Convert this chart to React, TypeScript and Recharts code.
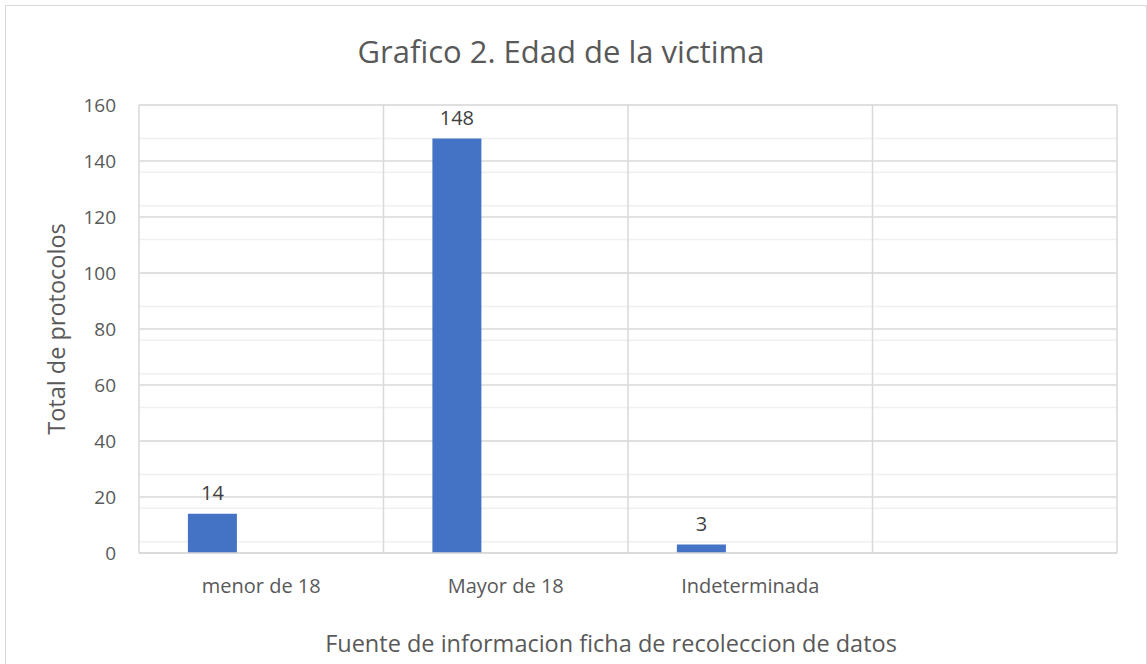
import { BarChart, Bar, XAxis, YAxis, CartesianGrid, LabelList, Label } from 'recharts';

const categories = ['menor de 18', 'Mayor de 18', 'Indeterminada', ''];
const serie1 = [14, 148, 3, null];
const serie2 = [null, null, null, null];
const serie3 = [null, null, null, null];

const yTicks = [0, 20, 40, 60, 80, 100, 120, 140, 160];
const minorTicks = [
  0, 4, 8, 12, 16, 20, 24, 28, 32, 36, 40, 44, 48, 52, 56, 60, 64, 68, 72, 76, 80,
  84, 88, 92, 96, 100, 104, 108, 112, 116, 120, 124, 128, 132, 136, 140, 144, 148, 152, 156, 160,
];
// category boundaries, as fractions of the category count
const categoryBounds = [0, 1, 2, 3, 4];

const data = categories.map((name, i) => ({
  name,
  s1: serie1[i],
  s2: serie2[i],
  s3: serie3[i],
}));

const font = '"Open Sans", sans-serif';
const textGrey = '#595959';
const gridMajor = '#d9d9d9';
const gridMinor = '#f0f0f0';
const barColor = '#4472C4';

const boundsGenerator = ({ offset }: any) =>
  categoryBounds.map((b) => offset.left + (b * offset.width) / categories.length);

export default function App() {
  return (
    <div
      style={{
        position: 'absolute',
        left: 0,
        top: 0,
        width: 1147,
        height: 664,
        overflow: 'hidden',
        background: '#fff',
        fontFamily: font,
      }}
    >
      <div
        style={{
          position: 'absolute',
          left: 5,
          top: 5,
          width: 1140,
          height: 700,
          border: `1.5px solid ${gridMajor}`,
        }}
      />
      <div
        style={{
          position: 'absolute',
          left: 0,
          top: 36,
          width: 1122,
          textAlign: 'center',
          fontSize: 31,
          lineHeight: '30px',
          color: textGrey,
        }}
      >
        Grafico 2. Edad de la victima
      </div>
      <BarChart
        width={1147}
        height={664}
        data={data}
        margin={{ top: 105, right: 30, bottom: 0, left: 0 }}
        barCategoryGap="20%"
        barGap={0}
        style={{ position: 'absolute', left: 0, top: 0 }}
      >
        <CartesianGrid
          vertical={false}
          horizontalValues={minorTicks}
          stroke={gridMinor}
          strokeWidth={1.5}
        />
        <CartesianGrid
          horizontalValues={yTicks}
          verticalCoordinatesGenerator={boundsGenerator}
          stroke={gridMajor}
          strokeWidth={1.5}
        />
        <XAxis
          dataKey="name"
          height={111}
          tickLine={false}
          tickSize={0}
          tickMargin={26}
          axisLine={{ stroke: gridMajor, strokeWidth: 1.5 }}
          tick={{ fill: textGrey, fontSize: 20, fontFamily: font }}
          interval={0}
        >
          <Label
            value="Fuente de informacion ficha de recoleccion de datos"
            position="insideBottom"
            offset={12}
            dx={-17}
            fill={textGrey}
            fontSize={23.5}
            fontFamily={font}
          />
        </XAxis>
        <YAxis
          width={139}
          domain={[0, 160]}
          ticks={yTicks}
          axisLine={false}
          tickLine={false}
          tickSize={0}
          tickMargin={23}
          tick={{ fill: textGrey, fontSize: 19, fontFamily: font }}
        >
          <Label
            value="Total de protocolos"
            angle={-90}
            position="center"
            dx={-13}
            fill={textGrey}
            fontSize={23.5}
            fontFamily={font}
          />
        </YAxis>
        <Bar dataKey="s1" fill={barColor} isAnimationActive={false}>
          <LabelList dataKey="s1" position="top" offset={14} fill="#404040" fontSize={20} fontFamily={font} />
        </Bar>
        <Bar dataKey="s2" fill="#ED7D31" isAnimationActive={false} />
        <Bar dataKey="s3" fill="#A5A5A5" isAnimationActive={false} />
      </BarChart>
    </div>
  );
}
